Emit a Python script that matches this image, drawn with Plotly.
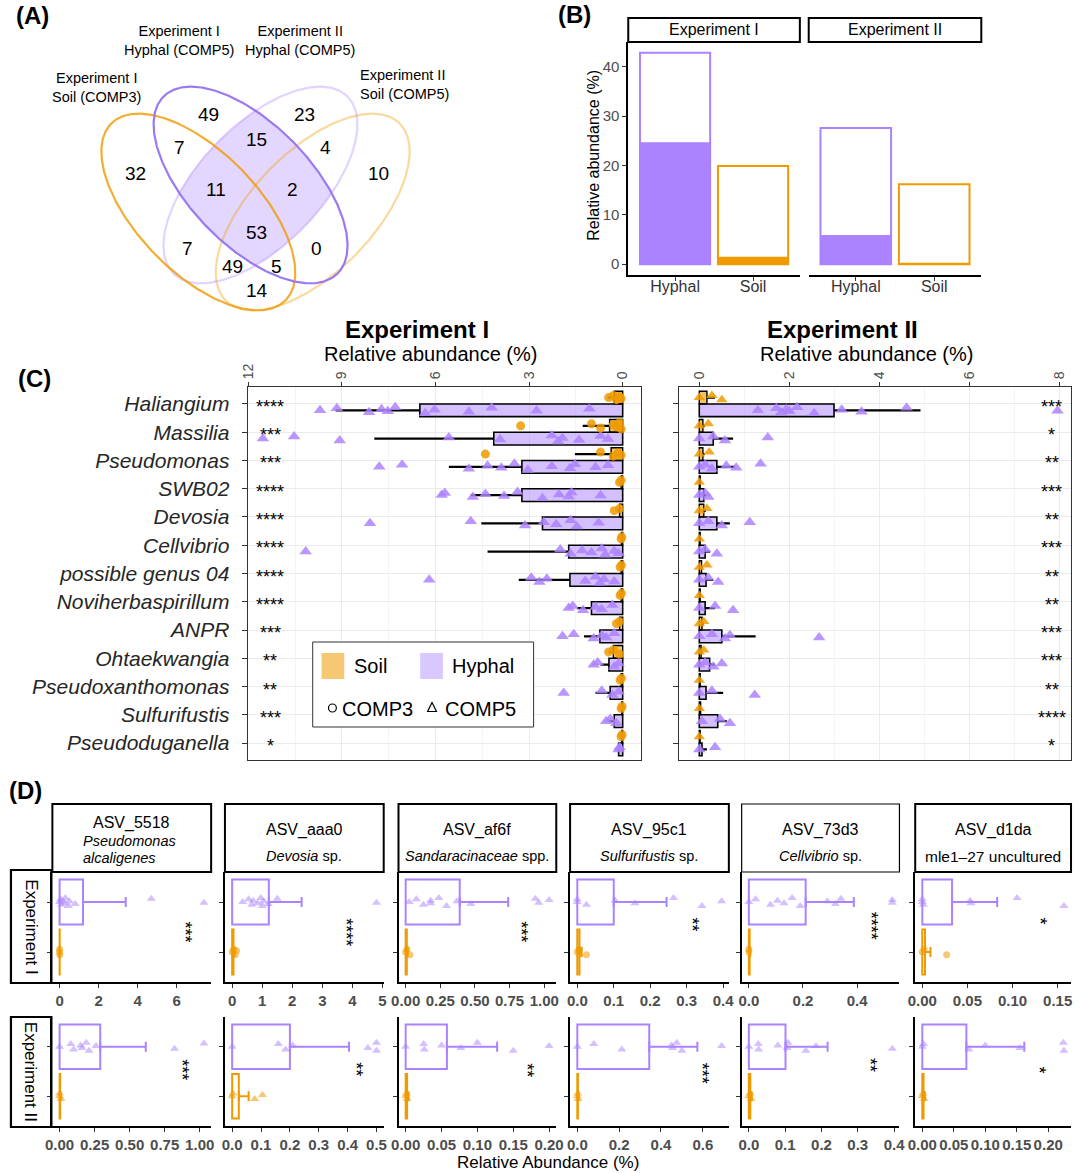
import numpy as np
import plotly.graph_objects as go

W, H = 1080, 1173
FONT = "Liberation Sans"
ORANGE = "#EE9A00"
PURPLE = "#AB82FF"

# ====================== DATA ======================
# ---- Panel A : Venn counts ----
venn_set_labels = ["Experiment I<br>Soil (COMP3)", "Experiment I<br>Hyphal (COMP5)",
                   "Experiment II<br>Hyphal (COMP5)", "Experiment II<br>Soil (COMP5)"]
venn_counts = [32, 49, 7, 15, 23, 4, 10, 11, 2, 7, 53, 0, 49, 5, 14]

# ---- Panel B ----
b_categories = ["Hyphal", "Soil"]
b_experiments = ["Experiment I", "Experiment II"]
b_total_exp1 = [42.8, 19.9]
b_total_exp2 = [27.6, 16.2]
b_part_exp1 = [24.7, 1.5]
b_part_exp2 = [5.9, 0.3]
b_yticks = [0, 10, 20, 30, 40]

# ---- Panel C ----
genera = ["Haliangium", "Massilia", "Pseudomonas", "SWB02", "Devosia", "Cellvibrio",
          "possible genus 04", "Noviherbaspirillum", "ANPR", "Ohtaekwangia",
          "Pseudoxanthomonas", "Sulfurifustis", "Pseudoduganella"]
c1_hyphal_mean = [6.50, 4.13, 3.23, 3.23, 2.57, 1.73, 1.69, 1.00, 0.73, 0.44, 0.40, 0.27, 0.13]
c1_hyphal_upper = [9.20, 7.96, 5.57, 4.87, 4.53, 4.33, 3.33, 1.47, 1.24, 0.71, 0.87, 0.44, 0.16]
c1_soil_mean = [0.27, 0.42, 0.37, 0.05, 0.10, 0.04, 0.05, 0.05, 0.10, 0.30, 0.05, 0.03, 0.03]
c1_soil_upper = [0.48, 1.28, 1.53, 0.08, 0.15, 0.06, 0.07, 0.07, 0.15, 0.45, 0.07, 0.05, 0.05]
c1_hyphal_points = [
    [9.70, 9.16, 8.13, 7.73, 7.53, 7.29, 6.33, 6.03, 4.93, 4.20, 2.76, 1.07],
    [11.53, 10.53, 9.07, 5.57, 3.93, 2.27, 2.07, 1.93, 1.40, 0.71, 0.47],
    [7.80, 7.07, 4.93, 4.33, 3.89, 3.47, 3.04, 2.27, 1.69, 1.53, 0.87, 0.47],
    [5.80, 5.70, 4.80, 4.40, 3.80, 3.37, 2.57, 2.04, 1.73, 1.64, 0.71],
    [8.10, 4.87, 3.13, 2.53, 2.13, 1.67, 1.47, 0.77],
    [10.16, 2.00, 1.67, 1.30, 1.00, 0.67, 0.56, 0.27, 0.13],
    [6.20, 2.93, 2.67, 2.43, 1.20, 0.87, 0.73, 0.60, 0.27],
    [1.73, 1.60, 1.27, 0.87, 0.67, 0.33],
    [1.93, 1.57, 0.93, 0.67, 0.53, 0.27],
    [0.93, 0.80, 0.27, 0.13],
    [1.89, 0.67, 0.33, 0.13],
    [0.53, 0.40, 0.20],
    [0.13, 0.10],
]
c1_soil_points = [
    [0.45, 0.30, 0.20, 0.10, 0.05],
    [3.27, 1.00, 0.71, 0.30, 0.20, 0.10, 0.05],
    [4.40, 0.71, 0.30, 0.15, 0.05],
    [0.10, 0.05],
    [0.27, 0.10],
    [0.05, 0.03],
    [0.08, 0.04],
    [0.08, 0.04],
    [0.20, 0.10],
    [0.45, 0.30, 0.10],
    [0.08, 0.04],
    [0.05, 0.02],
    [0.05, 0.02],
]
c1_stars = ["****", "***", "***", "****", "****", "****", "****", "****", "***", "**", "**", "***", "*"]

c2_hyphal_mean = [2.99, 0.31, 0.39, 0.10, 0.39, 0.13, 0.15, 0.13, 0.50, 0.23, 0.15, 0.41, 0.06]
c2_hyphal_upper = [4.91, 0.75, 0.79, 0.16, 0.68, 0.24, 0.31, 0.35, 1.25, 0.35, 0.53, 0.61, 0.17]
c2_soil_mean = [0.17, 0.08, 0.08, 0.02, 0.10, 0.02, 0.05, 0.02, 0.06, 0.04, 0.02, 0.03, 0.02]
c2_soil_upper = [0.35, 0.12, 0.12, 0.03, 0.15, 0.03, 0.08, 0.03, 0.10, 0.07, 0.03, 0.05, 0.03]
c2_hyphal_points = [
    [1.30, 1.71, 1.82, 1.93, 2.00, 2.17, 2.55, 3.16, 3.60, 4.60, 7.95],
    [0.00, 0.31, 0.57, 1.52],
    [0.00, 0.13, 0.28, 0.60, 0.82, 1.36],
    [0.00, 0.13, 0.20],
    [0.00, 0.20, 0.50, 1.12],
    [0.00, 0.13, 0.39],
    [0.00, 0.20, 0.42],
    [0.00, 0.35, 0.75],
    [0.00, 0.28, 0.57, 0.68, 2.66],
    [0.00, 0.13, 0.31, 0.50],
    [0.00, 0.28, 1.23],
    [0.06, 0.46, 0.68],
    [0.00, 0.35],
]
c2_soil_points = [
    [0.00, 0.28, 0.50],
    [0.00, 0.20],
    [0.00, 0.22],
    [0.00],
    [0.00, 0.17],
    [0.00],
    [0.00, 0.17],
    [0.00],
    [0.00, 0.10],
    [0.00, 0.10],
    [0.00],
    [0.00],
    [0.00],
]
c2_stars = ["***", "*", "**", "***", "**", "***", "**", "**", "***", "***", "**", "****", "*"]
c1_xticks = [0, 3, 6, 9, 12]
c2_xticks = [0, 2, 4, 6, 8]

# ---- Panel D ----
d_asv = ["ASV_5518", "ASV_aaa0", "ASV_af6f", "ASV_95c1", "ASV_73d3", "ASV_d1da"]
d_taxon = [["<i>Pseudomonas</i>", "<i>alcaligenes</i>"], ["<i>Devosia</i> sp."],
           ["<i>Sandaracinaceae</i> spp."], ["<i>Sulfurifustis</i> sp."],
           ["<i>Cellvibrio</i> sp."], ["mle1\u201327 uncultured"]]
d_rows = ["Experiment I", "Experiment II"]

d1_hyphal_mean = [1.20, 1.22, 0.39, 0.100, 0.210, 0.033]
d1_hyphal_upper = [3.39, 2.31, 0.74, 0.245, 0.388, 0.083]
d1_soil_mean = [0.006, 0.045, 0.008, 0.006, 0.003, 0.003]
d1_soil_upper = [0.012, 0.080, 0.014, 0.012, 0.005, 0.009]
d1_hyphal_points = [
    [0.00, 0.05, 0.10, 0.15, 0.25, 0.30, 0.45, 0.50, 0.80, 4.70, 7.40],
    [0.35, 0.55, 0.65, 0.70, 0.85, 0.95, 1.00, 1.05, 1.20, 1.50, 4.80],
    [0.026, 0.077, 0.128, 0.18, 0.18, 0.24, 0.295, 0.37, 0.47, 0.936, 0.96, 1.035],
    [0.0, 0.0, 0.025, 0.104, 0.158, 0.264, 0.342, 0.396],
    [0.0, 0.025, 0.08, 0.106, 0.13, 0.16, 0.19, 0.29, 0.32, 0.34, 0.53, 0.53],
    [0.0, 0.0, 0.001, 0.053, 0.054, 0.105, 0.157],
]
d1_soil_points = [
    [0.0, 0.0, 0.01],
    [0.0, 0.05, 0.10, 0.15],
    [0.0, 0.01, 0.03],
    [0.0, 0.005, 0.025],
    [0.0, 0.0],
    [0.0, 0.002, 0.027],
]
d1_stars = ["***", "****", "***", "**", "****", "*"]
d1_ticks = [["0", "2", "4", "6"], ["0", "1", "2", "3", "4", "5"],
            ["0.00", "0.25", "0.50", "0.75", "1.00"], ["0.0", "0.1", "0.2", "0.3", "0.4"],
            ["0.0", "0.2", "0.4"], ["0.00", "0.05", "0.10", "0.15"]]

d2_hyphal_mean = [0.29, 0.20, 0.0575, 0.344, 0.101, 0.070]
d2_hyphal_upper = [0.615, 0.405, 0.1275, 0.574, 0.217, 0.162]
d2_soil_mean = [0.004, 0.023, 0.002, 0.003, 0.004, 0.002]
d2_soil_upper = [0.008, 0.057, 0.004, 0.006, 0.008, 0.004]
d2_hyphal_points = [
    [0.0, 0.08, 0.10, 0.15, 0.16, 0.19, 0.21, 0.26, 0.82, 1.03],
    [0.0, 0.16, 0.185, 0.21, 0.47, 0.50, 0.50],
    [0.0, 0.025, 0.026, 0.05, 0.077, 0.10, 0.15, 0.20],
    [0.0, 0.079, 0.213, 0.45, 0.455, 0.475, 0.50, 0.69],
    [0.0, 0.026, 0.027, 0.08, 0.105, 0.108, 0.157, 0.185, 0.395],
    [0.0, 0.002, 0.074, 0.10, 0.155, 0.224, 0.225],
]
d2_soil_points = [
    [0.0, 0.0, 0.01],
    [0.0, 0.003, 0.078, 0.105],
    [0.0, 0.001, 0.002],
    [0.0, 0.002, 0.004],
    [0.0, 0.003, 0.006],
    [0.0, 0.001, 0.003],
]
d2_stars = ["***", "**", "**", "***", "**", "*"]
d2_ticks = [["0.00", "0.25", "0.50", "0.75", "1.00"], ["0.0", "0.1", "0.2", "0.3", "0.4", "0.5"],
            ["0.00", "0.05", "0.10", "0.15", "0.20"], ["0.0", "0.2", "0.4", "0.6"],
            ["0.0", "0.1", "0.2", "0.3", "0.4"], ["0.00", "0.05", "0.10", "0.15", "0.20"]]

# ====================== LAYOUT CONSTANTS ======================
venn_ellipses = [  # cx, cy, a, b, angle, colour  (pixel geometry of panel A)
    (193, 212, 125, 61, 45, "rgba(238,154,0,0.80)"),
    (246, 185, 125, 61, 45, "rgba(150,115,240,0.95)"),
    (256, 185, 125, 61, -45, "rgba(171,130,255,0.35)"),
    (309, 212, 125, 61, -45, "rgba(238,154,0,0.38)"),
]
venn_count_pos = [(129, 173), (203, 114), (174, 147), (252, 139), (301, 114), (322, 147),
                  (376, 173), (211, 190), (289, 190), (182, 248), (252, 232), (313, 248),
                  (228, 266), (272, 266), (252, 291)]
venn_label_pos = [(90, 87, "center"), (173, 41, "center"), (296, 41, "center"), (356, 85, "left")]

C_STAR_X = (11.3, 7.82)
D_STAR_X = [[6.45, 3.78, 0.83, 0.316, 0.452, 0.13], [0.875, 0.43, 0.169, 0.595, 0.335, 0.186]]
D_STAR_Y = [[1.40, 1.40, 1.40, 1.54, 1.52, 1.62], [1.54, 1.54, 1.53, 1.46, 1.62, 1.53]]
D_COLS = [(45, 206), (220, 381), (396, 556), (570, 731), (744, 904), (920, 1078)]
D_ROWS = [(872, 982), (1017, 1126)]

# ====================== HELPERS ======================
fig = go.Figure()
layout = {}
annotations = []
shapes = []


def axn(i, l):
    return f"{l}axis" if i == 1 else f"{l}axis{i}"


def axr(i, l):
    return l if i == 1 else f"{l}{i}"


def set_axes(i, xpx, ypx, xkw, ykw):
    base = dict(showgrid=False, zeroline=False)
    layout[axn(i, "x")] = {**base, "domain": [xpx[0] / W, xpx[1] / W], "anchor": axr(i, "y"), **xkw}
    layout[axn(i, "y")] = {**base, "domain": [1 - ypx[1] / H, 1 - ypx[0] / H], "anchor": axr(i, "x"), **ykw}


def ann(text, x, y, size, color="black", xanchor="center", yanchor="middle", angle=0,
        align="center", xref="paper", yref="paper", yshift=0, xshift=0):
    if xref == "paper":
        x = x / W
    if yref == "paper":
        y = 1 - y / H
    annotations.append(dict(text=text, x=x, y=y, xref=xref, yref=yref, showarrow=False,
                            font=dict(family=FONT, size=size, color=color),
                            xanchor=xanchor, yanchor=yanchor, textangle=angle, align=align,
                            yshift=yshift, xshift=xshift, borderpad=0))


def rect(x0, y0, x1, y1, color="black", width=2, fill="rgba(0,0,0,0)", layer="above"):
    shapes.append(dict(type="rect", xref="paper", yref="paper", x0=x0 / W, x1=x1 / W,
                       y0=1 - y1 / H, y1=1 - y0 / H, line=dict(color=color, width=width),
                       fillcolor=fill, layer=layer))


def jitter(n, spread):
    pattern = [0.0, 0.6, -0.6, 0.3, -0.3, 0.9, -0.9, 0.15, -0.45, 0.75, -0.15, 0.45, -0.75]
    return [spread * pattern[k % len(pattern)] for k in range(n)]


# ====================== PANEL A (Venn) ======================
set_axes(17, (0, 540), (0, 315), dict(range=[0, 540], visible=False),
         dict(range=[315, 0], visible=False))


def ellipse_xy(cx, cy, a, b, ang, n=500):
    t = np.linspace(0, 2 * np.pi, n)
    th = np.deg2rad(ang)
    x = cx + a * np.cos(t) * np.cos(th) - b * np.sin(t) * np.sin(th)
    y = cy + a * np.cos(t) * np.sin(th) + b * np.sin(t) * np.cos(th)
    return x, y


def inside(x, y, e):
    cx, cy, a, b, ang = e[:5]
    th = np.deg2rad(ang)
    dx, dy = x - cx, y - cy
    u = dx * np.cos(th) + dy * np.sin(th)
    v = -dx * np.sin(th) + dy * np.cos(th)
    return (u / a) ** 2 + (v / b) ** 2 <= 1.0


e2, e3 = venn_ellipses[1], venn_ellipses[2]
x2, y2 = ellipse_xy(*e2[:5], n=2000)
x3, y3 = ellipse_xy(*e3[:5], n=2000)
m2 = inside(x2, y2, e3)
m3 = inside(x3, y3, e2)
px_ = np.concatenate([x2[m2], x3[m3]])
py_ = np.concatenate([y2[m2], y3[m3]])
order = np.argsort(np.arctan2(py_ - py_.mean(), px_ - px_.mean()))
fig.add_trace(go.Scatter(x=list(px_[order]) + [px_[order][0]], y=list(py_[order]) + [py_[order][0]],
                         fill="toself", fillcolor="rgba(171,130,255,0.32)", line=dict(width=0),
                         mode="lines", xaxis="x17", yaxis="y17", hoverinfo="skip", showlegend=False))
for idx in [3, 2, 0, 1]:
    e = venn_ellipses[idx]
    ex, ey = ellipse_xy(*e[:5])
    fig.add_trace(go.Scatter(x=ex, y=ey, mode="lines", line=dict(color=e[5], width=2.2),
                             xaxis="x17", yaxis="y17", hoverinfo="skip", showlegend=False))
for cnt, (x, y) in zip(venn_counts, venn_count_pos):
    ann(str(cnt), x, y, 19)
for lab, (x, y, al) in zip(venn_set_labels, venn_label_pos):
    ann(lab, x, y, 14.5, xanchor=al, align=al)
ann("<b>(A)</b>", 25, 16, 24)

# ====================== PANEL B ======================
b_pos = [1, 2]
b_cols = [PURPLE, ORANGE]
b_facets = [((629, 803), b_total_exp1, b_part_exp1), ((812, 987), b_total_exp2, b_part_exp2)]
for k, (xpx, tot, part) in enumerate(b_facets):
    i = k + 1
    xkw = dict(range=[0.4, 2.6], tickvals=b_pos, ticktext=b_categories, showline=True,
               linecolor="black", linewidth=1.6, ticks="outside", ticklen=4, tickcolor="#333",
               ticklabelstandoff=-8,
               tickfont=dict(family=FONT, size=16, color="#333"))
    ykw = dict(range=[-2.2, 45], tickvals=b_yticks, showticklabels=(k == 0), showline=(k == 0),
               linecolor="black", linewidth=1.6, ticks="outside" if k == 0 else "", ticklen=4,
               tickcolor="#333", tickfont=dict(family=FONT, size=15, color="#4D4D4D"))
    set_axes(i, xpx, (42, 275), xkw, ykw)
    fig.add_trace(go.Bar(x=b_pos, y=tot, width=0.9, marker=dict(color="white", line=dict(color=b_cols, width=2)),
                         xaxis=axr(i, "x"), yaxis=axr(i, "y"), showlegend=False, hoverinfo="skip"))
    fig.add_trace(go.Bar(x=b_pos, y=part, width=0.9, marker=dict(color=b_cols, line=dict(width=0)),
                         xaxis=axr(i, "x"), yaxis=axr(i, "y"), showlegend=False, hoverinfo="skip"))
    rect(xpx[0], 18, xpx[1], 42, width=2)
    ann(b_experiments[k], (xpx[0] + xpx[1]) / 2, 30, 16)
ann("Relative abundance (%)", 594, 155, 16, angle=-90)
ann("<b>(B)</b>", 574, 15, 24)

# ====================== PANEL C ======================
pos = [len(genera) - k for k in range(len(genera))]
c_sets = [
    dict(xpx=(243, 642), rng=[12.02, -0.59], ticks=c1_xticks, minor=[1.5, 4.5, 7.5, 10.5],
         hm=c1_hyphal_mean, hu=c1_hyphal_upper, sm=c1_soil_mean, su=c1_soil_upper,
         hp=c1_hyphal_points, sp=c1_soil_points, ssym="circle", stars=c1_stars,
         title="<b>Experiment I</b>", tx=415, sx=428),
    dict(xpx=(680, 1078), rng=[-0.46, 8.25], ticks=c2_xticks, minor=[1, 3, 5, 7],
         hm=c2_hyphal_mean, hu=c2_hyphal_upper, sm=c2_soil_mean, su=c2_soil_upper,
         hp=c2_hyphal_points, sp=c2_soil_points, ssym="triangle-up", stars=c2_stars,
         title="<b>Experiment II</b>", tx=846, sx=871),
]
for k, cs in enumerate(c_sets):
    i = 3 + k
    xkw = dict(range=cs["rng"], side="top", tickvals=cs["ticks"], tickangle=-90,
               tickfont=dict(family=FONT, size=14, color="#4D4D4D"), showgrid=True,
               gridcolor="#EBEBEB", gridwidth=1.2,
               minor=dict(tickvals=cs["minor"], showgrid=True, gridcolor="#F3F3F3", gridwidth=0.6),
               showline=True, mirror=True, linecolor="#333", linewidth=1, ticks="outside",
               ticklen=4, tickcolor="#333")
    ykw = dict(range=[0.4, len(genera) + 0.6], tickvals=pos,
               ticktext=[f"<i>{g}</i>" for g in genera], showticklabels=(k == 0),
               tickfont=dict(family=FONT, size=21, color="#262626"), showgrid=True,
               gridcolor="#EBEBEB", gridwidth=1.2, showline=True, mirror=True, linecolor="#333",
               linewidth=1, ticks="outside", ticklen=5, tickcolor="#333", ticklabelstandoff=8)
    set_axes(i, cs["xpx"], (387, 760), xkw, ykw)
    xa, ya = axr(i, "x"), axr(i, "y")
    n = len(genera)
    fig.add_trace(go.Bar(orientation="h", x=cs["sm"], y=[p + 0.225 for p in pos], width=0.45,
                         marker=dict(color="rgba(238,154,0,0.6)", line=dict(color="black", width=1.4)),
                         error_x=dict(type="data", symmetric=False,
                                      array=[u - m for u, m in zip(cs["su"], cs["sm"])],
                                      arrayminus=[0] * n, width=0, thickness=2.2, color="black"),
                         xaxis=xa, yaxis=ya, showlegend=False, hoverinfo="skip"))
    fig.add_trace(go.Bar(orientation="h", x=cs["hm"], y=[p - 0.225 for p in pos], width=0.45,
                         marker=dict(color="rgba(171,130,255,0.5)", line=dict(color="black", width=1.6)),
                         error_x=dict(type="data", symmetric=False,
                                      array=[u - m for u, m in zip(cs["hu"], cs["hm"])],
                                      arrayminus=[0] * n, width=0, thickness=2.2, color="black"),
                         xaxis=xa, yaxis=ya, showlegend=False, hoverinfo="skip"))
    hx, hy, sx_, sy_ = [], [], [], []
    for p, hpts, spts in zip(pos, cs["hp"], cs["sp"]):
        hx += hpts
        hy += [p - 0.225 + o for o in jitter(len(hpts), 0.12)]
        sx_ += spts
        sy_ += [p + 0.225 + o for o in jitter(len(spts), 0.12)]
    fig.add_trace(go.Scatter(x=hx, y=hy, mode="markers",
                             marker=dict(symbol="triangle-up", size=11, color="rgba(171,130,255,0.85)",
                                         line=dict(width=0)),
                             xaxis=xa, yaxis=ya, showlegend=False, hoverinfo="skip"))
    fig.add_trace(go.Scatter(x=sx_, y=sy_, mode="markers",
                             marker=dict(symbol=cs["ssym"], size=10 if cs["ssym"] != "circle" else 9,
                                         color="rgba(238,154,0,0.85)", line=dict(width=0)),
                             xaxis=xa, yaxis=ya, showlegend=False, hoverinfo="skip"))
    for p, s in zip(pos, cs["stars"]):
        ann(s, C_STAR_X[k], p, 18, xref=xa, yref=ya, yshift=-3)
    ann(cs["title"], cs["tx"], 329, 24)
    ann("Relative abundance (%)", cs["sx"], 354, 20)
ann("<b>(C)</b>", 27, 378, 24)

# legend of panel C
rect(309, 642, 533, 727, color="#333", width=1, fill="white")
rect(318, 653, 341, 679, color="rgba(0,0,0,0)", width=0, fill="rgba(238,154,0,0.55)")
rect(418, 653, 441, 679, color="rgba(0,0,0,0)", width=0, fill="rgba(171,130,255,0.45)")
ann("Soil", 350, 666, 20, xanchor="left")
ann("Hyphal", 449, 666, 20, xanchor="left")
shapes.append(dict(type="circle", xref="paper", yref="paper", x0=325 / W, x1=333 / W,
                   y0=1 - 712 / H, y1=1 - 704 / H, line=dict(color="black", width=1.2)))
tri = [(430, 702.5), (425.5, 711.5), (434.5, 711.5)]
shapes.append(dict(type="path", xref="paper", yref="paper",
                   path="M {} {} L {} {} L {} {} Z".format(*[v for (a, b) in tri for v in (a / W, 1 - b / H)]),
                   line=dict(color="black", width=1.2)))
ann("COMP3", 338, 709, 20, xanchor="left")
ann("COMP5", 442, 709, 20, xanchor="left")

# ====================== PANEL D ======================
d_sets = [
    (d1_hyphal_mean, d1_hyphal_upper, d1_soil_mean, d1_soil_upper, d1_hyphal_points, d1_soil_points,
     d1_stars, d1_ticks, "circle"),
    (d2_hyphal_mean, d2_hyphal_upper, d2_soil_mean, d2_soil_upper, d2_hyphal_points, d2_soil_points,
     d2_stars, d2_ticks, "triangle-up"),
]
for r, (hm, hu, sm, su, hp, sp, stars, ticks, ssym) in enumerate(d_sets):
    for c in range(6):
        i = 5 + r * 6 + c
        allv = [0.0] + hp[c] + sp[c] + [hu[c], su[c]]
        lo, hi = min(allv), max(allv)
        span = hi - lo
        xkw = dict(range=[lo - 0.05 * span, hi + 0.05 * span], tickvals=[float(t) for t in ticks[c]],
                   ticktext=ticks[c], showline=True, linecolor="black", linewidth=1.6,
                   ticks="outside", ticklen=4, tickcolor="#333",
                   tickfont=dict(family=FONT, size=15, color="#4D4D4D", weight="bold"))
        ykw = dict(range=[0.4, 2.6], tickvals=[1, 2], showticklabels=False, showline=True,
                   linecolor="black", linewidth=1.6, ticks="outside", ticklen=4, tickcolor="#333")
        set_axes(i, D_COLS[c], D_ROWS[r], xkw, ykw)
        xa, ya = axr(i, "x"), axr(i, "y")
        for mean, up, yv, col in [(sm[c], su[c], 1, ORANGE), (hm[c], hu[c], 2, PURPLE)]:
            fig.add_trace(go.Bar(orientation="h", x=[mean], y=[yv], width=0.9,
                                 marker=dict(color="rgba(0,0,0,0)", line=dict(color=col, width=2)),
                                 error_x=dict(type="data", symmetric=False, array=[up - mean],
                                              arrayminus=[0], width=5, thickness=2, color=col),
                                 xaxis=xa, yaxis=ya, showlegend=False, hoverinfo="skip"))
        fig.add_trace(go.Scatter(x=hp[c], y=[2 + o for o in jitter(len(hp[c]), 0.09)], mode="markers",
                                 marker=dict(symbol="triangle-up", size=8, color="rgba(171,130,255,0.5)",
                                             line=dict(width=0)),
                                 xaxis=xa, yaxis=ya, showlegend=False, hoverinfo="skip"))
        fig.add_trace(go.Scatter(x=sp[c], y=[1 + o for o in jitter(len(sp[c]), 0.09)], mode="markers",
                                 marker=dict(symbol=ssym, size=8 if ssym == "triangle-up" else 7,
                                             color="rgba(238,154,0,0.55)", line=dict(width=0)),
                                 xaxis=xa, yaxis=ya, showlegend=False, hoverinfo="skip"))
        ann(stars[c], D_STAR_X[r][c], D_STAR_Y[r][c], 18, xref=xa, yref=ya, angle=90)

# column strips
for c in range(6):
    x0, x1 = D_COLS[c]
    rect(x0, 804, x1, 872, width=1.2 if c == 4 else 2)
    xc = (x0 + x1) / 2
    if len(d_taxon[c]) == 2:
        ann(d_asv[c], xc, 823, 16)
        ann(d_taxon[c][0], 75, 841, 14.5, xanchor="left")
        ann(d_taxon[c][1], 75, 858, 14.5, xanchor="left")
    else:
        ann(d_asv[c], xc, 830, 16)
        ann(d_taxon[c][0], xc, 856, 14.5 if c < 5 else 15.5)
# row strips
for r in range(2):
    y0, y1 = (870, 983) if r == 0 else (1017, 1127)
    rect(3, y0, 44, y1, width=2.2)
    ann(d_rows[r], 23.5, (y0 + y1) / 2, 17, angle=90)
ann("Relative Abundance (%)", 548, 1162, 17)
ann("<b>(D)</b>", 18, 790, 24)

# ====================== FINAL ======================
layout.update(dict(width=W, height=H, margin=dict(l=0, r=0, t=0, b=0), paper_bgcolor="white",
                   plot_bgcolor="rgba(0,0,0,0)", barmode="overlay", showlegend=False,
                   font=dict(family=FONT, color="black"), annotations=annotations, shapes=shapes))
fig.update_layout(layout)
fig.write_html("out.html", config={"displayModeBar": False},
               post_script="document.body.style.margin='0';document.body.style.overflow='hidden';")
